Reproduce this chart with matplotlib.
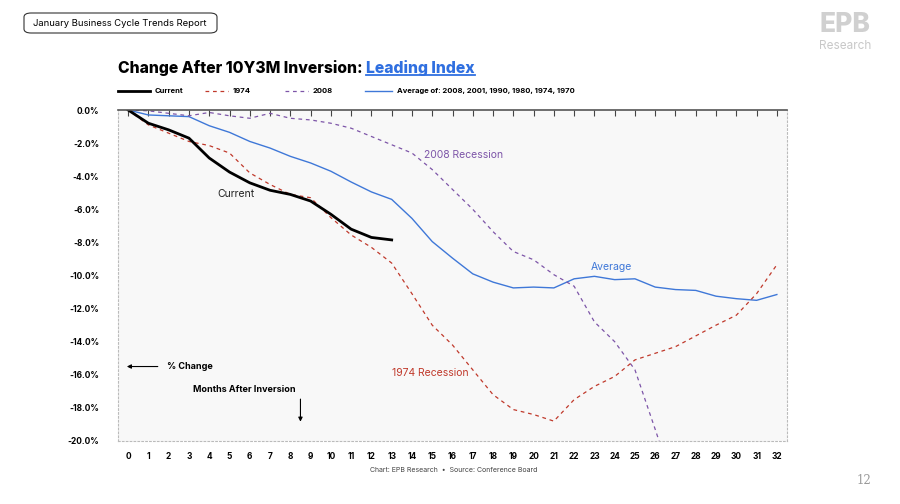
import matplotlib
matplotlib.use("Agg")
import matplotlib.pyplot as plt
from matplotlib.lines import Line2D
from matplotlib.patches import FancyBboxPatch

plt.rcParams["font.family"] = ["Inter", "DejaVu Sans"]

# months after inversion
months = list(range(33))
current = [0, -0.8, -1.2, -1.7, -2.9, -3.75, -4.4, -4.85, -5.1, -5.5, -6.3,
           -7.2, -7.7, -7.85]
y1974 = [0, -0.9, -1.4, -1.9, -2.15, -2.6, -3.8, -4.5, -5.1, -5.3, -6.5,
         -7.55, -8.3, -9.25, -11.1, -13.0, -14.2, -15.7, -17.2, -18.1, -18.4,
         -18.8, -17.5, -16.7, -16.1, -15.1, -14.7, -14.3, -13.65, -13.0,
         -12.4, -11.1, -9.35]
y2008 = [0, -0.05, -0.2, -0.35, -0.15, -0.35, -0.5, -0.2, -0.5, -0.6, -0.8,
         -1.1, -1.6, -2.1, -2.6, -3.6, -4.8, -6.0, -7.35, -8.55, -9.05, -9.95,
         -10.65, -12.8, -14.0, -15.7, -19.3, -23.0]
average = [0, -0.3, -0.35, -0.4, -0.95, -1.35, -1.9, -2.3, -2.8, -3.2, -3.7,
           -4.35, -4.95, -5.4, -6.55, -7.95, -8.95, -9.9, -10.4, -10.75,
           -10.7, -10.75, -10.2, -10.05, -10.25, -10.2, -10.7, -10.85, -10.9,
           -11.25, -11.4, -11.5, -11.15]
yticks = [0, -2, -4, -6, -8, -10, -12, -14, -16, -18, -20]

C_RED = "#c0392b"
C_PURPLE = "#7d55a8"
C_BLUE = "#3f78d8"

fig = plt.figure(figsize=(9, 5.04), dpi=100)
ax = fig.add_axes([118 / 900, 1 - 441 / 504, 669 / 900, 331 / 504])
ax.set_facecolor("#f8f8f8")

ax.plot(months[:len(average)], average, color=C_BLUE, lw=1.0)
ax.plot(months[:len(y2008)], y2008, color=C_PURPLE, lw=0.9, ls=(0, (3, 3)))
ax.plot(months[:len(y1974)], y1974, color=C_RED, lw=0.9, ls=(0, (3, 3)))
ax.plot(months[:len(current)], current, color="black", lw=2.0)

ax.set_xlim(-0.5, 32.5)
ax.set_ylim(-20, 0)
ax.set_xticks(months)
ax.set_xticklabels([str(m) for m in months], fontsize=6, fontweight="bold")
ax.set_yticks(yticks)
ax.set_yticklabels([f"{v:.1f}%" for v in yticks], fontsize=6, fontweight="bold")
ax.tick_params(axis="x", bottom=False, top=True, direction="in", length=4,
               width=0.8, color="#444444", labelbottom=True, pad=8)
ax.tick_params(axis="y", left=False, pad=10)

for side in ["left", "right", "bottom"]:
    ax.spines[side].set_linestyle((0, (1.5, 2)))
    ax.spines[side].set_color("#bbbbbb")
    ax.spines[side].set_linewidth(0.8)
ax.spines["top"].set_color("#555555")
ax.spines["top"].set_linewidth(1.2)

# line labels
ax.text(4.4, -5.1, "Current", fontsize=7.5, color="#222222", va="center")
ax.text(14.6, -2.7, "2008 Recession", fontsize=7.5, color=C_PURPLE, va="center")
ax.text(22.8, -9.5, "Average", fontsize=7.5, color=C_BLUE, va="center")
ax.text(13.0, -15.9, "1974 Recession", fontsize=7.5, color=C_RED, va="center")

# axis hints
ax.annotate("", xy=(-0.2, -15.5), xytext=(1.6, -15.5),
            arrowprops=dict(arrowstyle="-|>", color="black", lw=0.8,
                            mutation_scale=6))
ax.text(1.9, -15.5, "% Change", fontsize=6.5, fontweight="bold", va="center")
ax.text(3.2, -16.9, "Months After Inversion", fontsize=6.5, fontweight="bold",
        va="center")
ax.annotate("", xy=(8.5, -19.0), xytext=(8.5, -17.3),
            arrowprops=dict(arrowstyle="-|>", color="black", lw=0.8,
                            mutation_scale=6))

# title with underlined blue part
renderer = fig.canvas.get_renderer()
t1 = fig.text(118 / 900, 1 - 68 / 504, "Change After 10Y3M Inversion: ",
              fontsize=11.3, fontweight="heavy", va="center")
bb = t1.get_window_extent(renderer)
x2 = bb.x1 / fig.bbox.width
t2 = fig.text(x2, 1 - 68 / 504, "Leading Index", fontsize=11.3,
              fontweight="heavy", va="center", color="#2f6fe0")
bb2 = t2.get_window_extent(renderer)
uy = (bb2.y0 + 1) / fig.bbox.height
fig.add_artist(Line2D([bb2.x0 / fig.bbox.width, bb2.x1 / fig.bbox.width],
                      [uy, uy], color="#2f6fe0", lw=1.3))

# legend
legend_items = [
    (118, 150, "black", "-", 2.0, "Current"),
    (205, 228, C_RED, (0, (3, 3)), 0.9, "1974"),
    (285, 308, C_PURPLE, (0, (3, 3)), 0.9, "2008"),
    (365, 392, C_BLUE, "-", 1.0, "Average of: 2008, 2001, 1990, 1980, 1974, 1970"),
]
ly = 1 - 91 / 504
for xa, xb, col, ls, lw, lab in legend_items:
    fig.add_artist(Line2D([xa / 900, xb / 900], [ly, ly], color=col, ls=ls, lw=lw))
    fig.text((xb + 5) / 900, ly, lab, fontsize=5.5, fontweight="bold",
             va="center")

# header box
fig.text(120 / 900, 1 - 23 / 504, "January Business Cycle Trends Report",
         fontsize=6.8, ha="center", va="center")
fig.add_artist(FancyBboxPatch((24 / 900, 1 - 33 / 504), 193 / 900, 20 / 504,
                              boxstyle="round,pad=0,rounding_size=0.008",
                              transform=fig.transFigure, fill=False,
                              ec="#333333", lw=0.8))

# logo
fig.text(845 / 900, 1 - 25 / 504, "EPB", fontsize=19, fontweight="heavy",
         color="#d0d0d0", ha="center", va="center")
fig.text(845 / 900, 1 - 46 / 504, "Research", fontsize=8.5, color="#c8c8c8",
         ha="center", va="center")

# source and page
fig.text(370 / 900, 1 - 470 / 504,
         "Chart: EPB Research  \u2022  Source: Conference Board",
         fontsize=5, color="#444444", va="center")
fig.text(864 / 900, 1 - 481 / 504, "12", fontsize=8.5, color="#999999",
         ha="center", va="center", family="DejaVu Serif")

fig.savefig("out.png", dpi=100, facecolor="white")
